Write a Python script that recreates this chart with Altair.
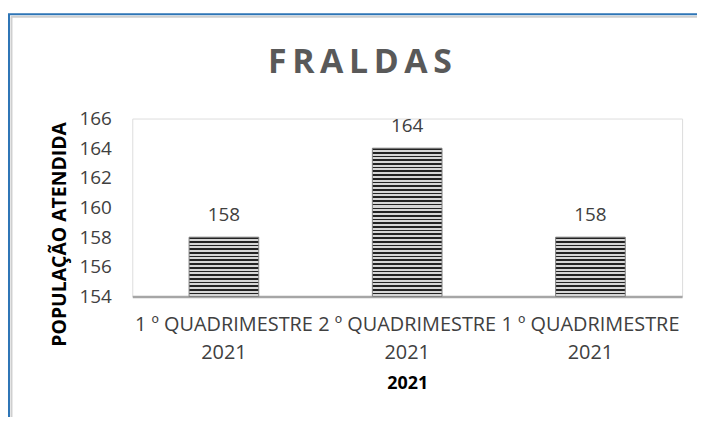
import json
import altair as alt
import pandas as pd

# ---- data ----
categories = ["1 º QUADRIMESTRE 2021", "2 º QUADRIMESTRE 2021", "1 º QUADRIMESTRE 2021"]
values = [158, 164, 158]
y_ticks = [154, 156, 158, 160, 162, 164, 166]
chart_title = "FRALDAS"
y_title = "POPULAÇÃO ATENDIDA"
x_title = "2021"

Y_MIN = y_ticks[0]
Y_MAX = y_ticks[-1]

df = pd.DataFrame({"idx": list(range(len(categories))), "label": categories, "value": values})

label_lines = [c.rsplit(" ", 1) for c in categories]
label_expr = json.dumps(label_lines, ensure_ascii=False) + "[datum.value]"

FONT = "Open Sans"
TEXT_COLOR = "#404040"


def stripes(n, dark="#222222", light="#d6d6d6", frac=0.45):
    stops = []
    for i in range(n):
        o = i / n
        h = o + frac / n
        e = (i + 1) / n
        stops += [
            alt.GradientStop(color=dark, offset=o),
            alt.GradientStop(color=dark, offset=h),
            alt.GradientStop(color=light, offset=h),
            alt.GradientStop(color=light, offset=e),
        ]
    return alt.Gradient(gradient="linear", x1=0, y1=0, x2=0, y2=1, stops=stops)


x_enc = alt.X(
    "idx:O",
    scale=alt.Scale(paddingInner=0.62, paddingOuter=0.31),
    axis=alt.Axis(
        title=x_title,
        labelExpr=label_expr,
        labelAngle=0,
        labelFont=FONT,
        labelFontSize=20,
        labelColor=TEXT_COLOR,
        labelPadding=18,
        labelLineHeight=28,
        ticks=False,
        domainColor="#a6a6a6",
        domainWidth=2.5,
        titleFont=FONT,
        titleFontSize=18,
        titleFontWeight="bold",
        titleColor="#000000",
        titleBaseline="middle",
        titleY=88,
    ),
)
y_enc = alt.Y(
    "value:Q",
    scale=alt.Scale(domain=[Y_MIN, Y_MAX], zero=False, nice=False),
    axis=alt.Axis(
        values=y_ticks,
        title=y_title,
        domain=False,
        ticks=False,
        grid=False,
        labelFont=FONT,
        labelFontSize=19,
        labelColor=TEXT_COLOR,
        labelPadding=21,
        titleFont=FONT,
        titleFontSize=19.5,
        titleFontWeight="bold",
        titleColor="#000000",
        titleAngle=270,
        titleAlign="center",
        titleBaseline="middle",
        titleX=-73,
        titleY=116,
    ),
)

base = alt.Chart(df)

bar_layers = []
for i, v in enumerate(values):
    n = int(round((v - Y_MIN) * 4))
    bar_layers.append(
        base.transform_filter(alt.datum.idx == i)
        .mark_bar(fill=stripes(max(n, 1)), stroke="#808080", strokeWidth=1)
        .encode(x=x_enc, y=y_enc, y2=alt.datum(Y_MIN))
    )

text = base.mark_text(
    baseline="middle", dy=-22, font=FONT, fontSize=19, color=TEXT_COLOR
).encode(x=x_enc, y=y_enc, text="value:Q")

frame_df = pd.DataFrame({"k": [0]})
title_mark = alt.Chart(frame_df).mark_text(
    font=FONT, fontSize=34, fontWeight="bold", color="#595959",
    align="center", baseline="alphabetic",
).encode(
    x=alt.value(229), y=alt.value(-46), text=alt.value("\u2009".join(chart_title))
)

frame = [
    alt.Chart(frame_df).mark_rule(color="#2e75b6", strokeWidth=2).encode(
        x=alt.value(-124), y=alt.value(-105), y2=alt.value(330)
    ),
    alt.Chart(frame_df).mark_rule(color="#2e75b6", strokeWidth=2).encode(
        x=alt.value(-125), x2=alt.value(600), y=alt.value(-105)
    ),
    alt.Chart(frame_df).mark_rule(color="#cfcfcf", strokeWidth=2).encode(
        x=alt.value(-121.5), y=alt.value(-103), y2=alt.value(330)
    ),
    alt.Chart(frame_df).mark_rule(color="#cfcfcf", strokeWidth=2).encode(
        x=alt.value(-122), x2=alt.value(600), y=alt.value(-102.5)
    ),
]

chart = (
    alt.layer(*bar_layers, text, title_mark, *frame)
    .properties(
        width=553,
        height=179,
        autosize=alt.AutoSizeParams(type="none"),
        padding={"left": 125, "top": 110, "right": 15, "bottom": 120},
    )
    .configure_view(stroke=None)
    .configure(background="white")
)

chart.save("out.html", embed_options={"renderer": "svg", "actions": False})
